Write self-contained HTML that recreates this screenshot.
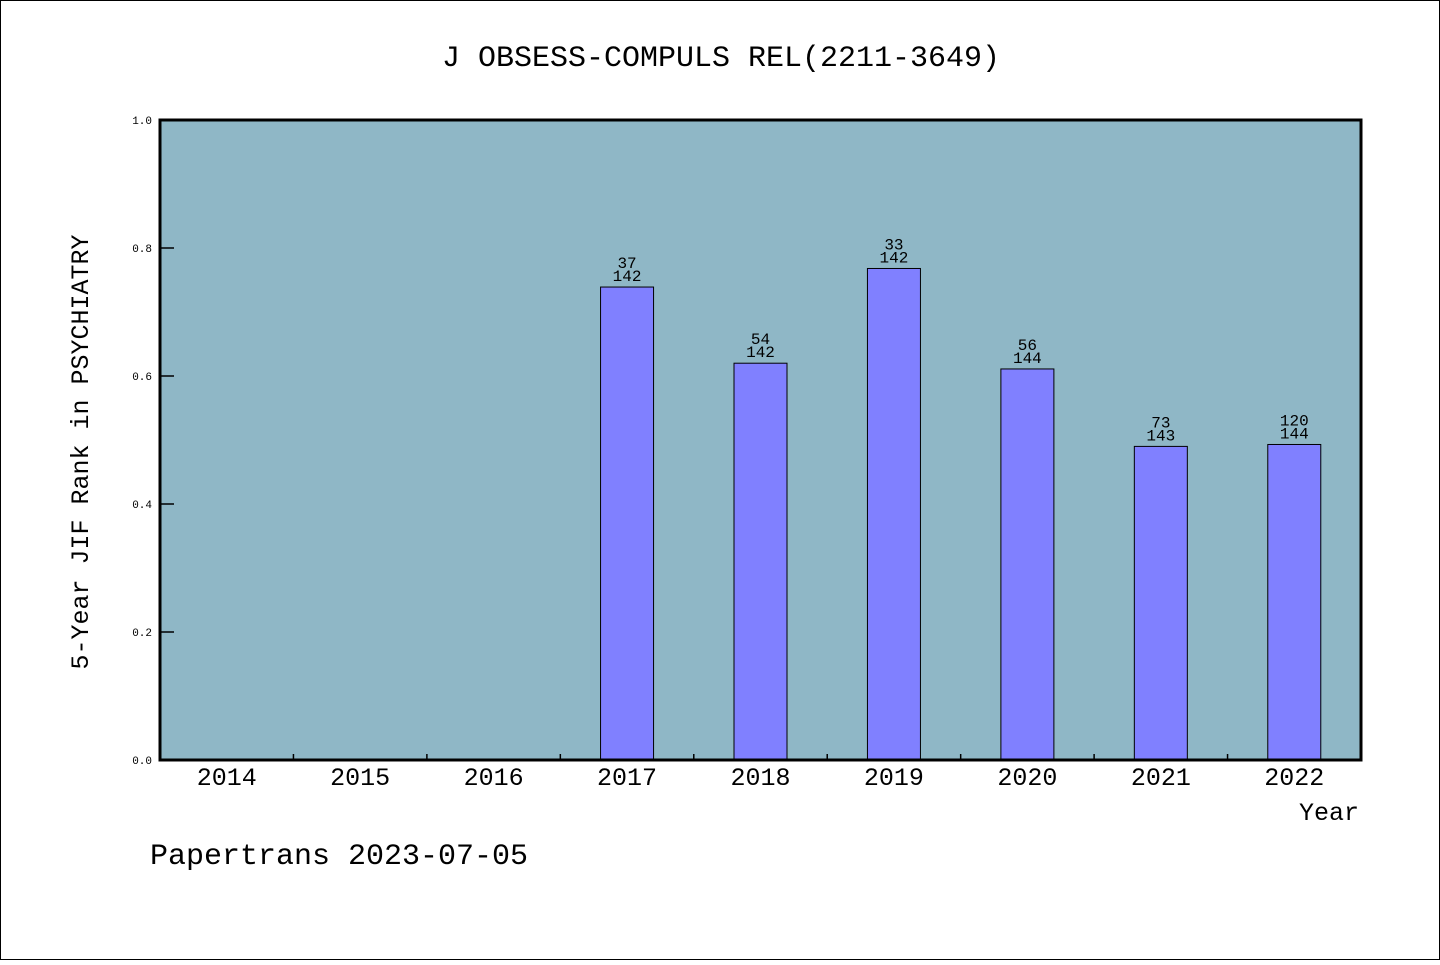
<!DOCTYPE html>
<html><head><meta charset="utf-8"><style>
body{margin:0;background:#fff}
svg text{font-family:"Liberation Mono","WenQuanYi Zen Hei",monospace}
</style></head><body>
<svg width="1440" height="960" viewBox="0 0 1440 960" xmlns="http://www.w3.org/2000/svg" id="chart">
<rect x="0.5" y="0.5" width="1439" height="959" fill="#fff" stroke="#000"/>
<text x="721" y="66" font-size="30" text-anchor="middle">J OBSESS-COMPULS REL(2211-3649)</text>
<rect x="160" y="120" width="1201" height="640" fill="#8fb7c6"/>
<g id="marks"></g>
<rect x="160" y="120" width="1201" height="640" fill="none" stroke="#000" stroke-width="3"/>
<text transform="translate(88,452) rotate(-90)" font-size="25" text-anchor="middle">5-Year JIF Rank in PSYCHIATRY</text>
<text x="1359" y="820" font-size="25" text-anchor="end">Year</text>
<text x="150" y="864" font-size="30">Papertrans 2023-07-05</text>
</svg>
<script>
const years=["2014","2015","2016","2017","2018","2019","2020","2021","2022"];
const values=[null,null,null,0.739,0.620,0.768,0.611,0.490,0.493];
const ranks=[null,null,null,"37","54","33","56","73","120"];
const totals=[null,null,null,"142","142","142","144","143","144"];
const yTicks=[0,0.2,0.4,0.6,0.8,1.0];
const X0=160,X1=1361,Y0=760,Y1=120;
const step=(X1-X0)/years.length;
const xc=i=>X0+step*(i+0.5);
const y=v=>Y0-(v)*(Y0-Y1);
const g=document.getElementById('marks');
const NS="http://www.w3.org/2000/svg";
function mk(t,a){const e=document.createElementNS(NS,t);for(const k in a)e.setAttribute(k,a[k]);g.appendChild(e);return e;}
yTicks.forEach(v=>{
  const l=mk('line',{x1:X0,x2:X0+14,y1:y(v),y2:y(v),stroke:'#000','stroke-width':1.5});
  
  
  const t=mk('text',{x:X0-8,y:y(v)+4,'font-size':11,'text-anchor':'end'});
  t.textContent=v.toFixed(1);
  
  
});
years.forEach((yr,i)=>{
  if(i>0){const l=mk('line',{x1:X0+step*i,x2:X0+step*i,y1:Y0,y2:Y0-6,stroke:'#000','stroke-width':1.5});
  
  }
  const t=mk('text',{x:xc(i),y:785,'font-size':25,'text-anchor':'middle'});
  t.textContent=yr;
  
  
  const v=values[i];
  if(v!=null){
    const r=mk('rect',{x:xc(i)-26.5,y:y(v),width:53,height:Y0-y(v),fill:'#8080ff',stroke:'#000','stroke-width':1});
    
    
    const a=mk('text',{x:xc(i),y:y(v)-19,'font-size':16,'text-anchor':'middle'});
    a.textContent=ranks[i];
    
    
    const b=mk('text',{x:xc(i),y:y(v)-6,'font-size':16,'text-anchor':'middle'});
    b.textContent=totals[i];
    
    
  }
});
</script>
</body></html>
